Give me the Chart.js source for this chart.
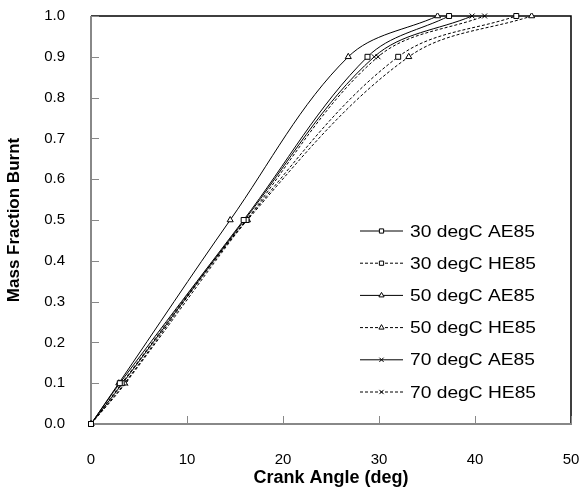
<!DOCTYPE html>
<html>
<head>
<meta charset="utf-8">
<script src="https://cdn.jsdelivr.net/npm/chart.js@4"></script>
<style>
  html, body { margin: 0; padding: 0; background: #fff; }
  #wrap { width: 583px; height: 490px; }
</style>
</head>
<body>
<div id="wrap"><canvas id="mfbChart" width="583" height="490"></canvas></div>
<script>
// --- DATA ---
const mfbLevels = [0, 0.1, 0.5, 0.9, 1.0];
const seriesNames = ['30 degC AE85', '30 degC HE85', '50 degC AE85', '50 degC HE85', '70 degC AE85', '70 degC HE85'];
// crank angle (deg) at which each mass fraction level is reached
const angle30AE = [0, 3.0, 15.9, 28.8, 37.3];
const angle30HE = [0, 3.2, 16.2, 32.0, 44.3];
const angle50AE = [0, 2.9, 14.5, 26.8, 36.1];
const angle50HE = [0, 3.5, 16.3, 33.1, 45.9];
const angle70AE = [0, 3.3, 16.0, 29.5, 39.7];
const angle70HE = [0, 3.6, 16.2, 29.9, 41.0];
const xTicks = [0, 10, 20, 30, 40, 50];
const yTicks = [0, 0.1, 0.2, 0.3, 0.4, 0.5, 0.6, 0.7, 0.8, 0.9, 1.0];

const FONT = 'Liberation Sans, Arial, sans-serif';
const AXIS_GREY = '#888888';

const angleSets = [angle30AE, angle30HE, angle50AE, angle50HE, angle70AE, angle70HE];
const markers = ['rect', 'rect', 'triangle', 'triangle', 'crossRot', 'crossRot'];

function buildDataset(i) {
  const dashed = i % 2 === 1;
  return {
    label: seriesNames[i],
    data: angleSets[i].map((x, k) => ({ x: x, y: mfbLevels[k] })),
    borderColor: '#000',
    backgroundColor: '#fff',
    borderWidth: 1,
    borderDash: dashed ? [3, 2] : [],
    tension: 0.35,
    pointStyle: markers[i],
    pointRadius: 3.5,
    pointBorderWidth: 1,
    pointBorderColor: '#000',
    pointBackgroundColor: '#fff',
    clip: 3
  };
}

// --- PLOT FRAME, INWARD TICKS AND LEGEND ---
const framePlugin = {
  id: 'frame',
  beforeDatasetsDraw(chart) {
    const { ctx, chartArea: a, scales } = chart;
    ctx.save();
    // black top / right border
    ctx.strokeStyle = '#000';
    ctx.lineWidth = 1.5;
    ctx.beginPath();
    ctx.moveTo(a.left, a.top);
    ctx.lineTo(a.right, a.top);
    ctx.lineTo(a.right, a.bottom);
    ctx.stroke();
    // inward tick marks
    ctx.strokeStyle = AXIS_GREY;
    ctx.lineWidth = 1;
    ctx.beginPath();
    yTicks.forEach(v => {
      const py = Math.round(scales.y.getPixelForValue(v)) + 0.5;
      ctx.moveTo(a.left, py);
      ctx.lineTo(a.left + 8, py);
    });
    xTicks.forEach(v => {
      const px = Math.round(scales.x.getPixelForValue(v)) + 0.5;
      ctx.moveTo(px, a.bottom);
      ctx.lineTo(px, a.bottom - 8);
    });
    ctx.stroke();
    // grey axes
    ctx.lineWidth = 2;
    ctx.beginPath();
    ctx.moveTo(a.left, a.top);
    ctx.lineTo(a.left, a.bottom);
    ctx.lineTo(a.right + 1, a.bottom);
    ctx.stroke();
    ctx.restore();
  },
  afterDraw(chart) {
    const { ctx } = chart;
    ctx.save();
    ctx.font = '17px ' + FONT;
    ctx.textBaseline = 'middle';
    chart.data.datasets.forEach((ds, i) => {
      const y = 231 + i * 32.2;
      ctx.strokeStyle = '#000';
      ctx.lineWidth = 1;
      ctx.setLineDash(ds.borderDash);
      ctx.beginPath();
      ctx.moveTo(360, y);
      ctx.lineTo(403, y);
      ctx.stroke();
      ctx.setLineDash([]);
      ctx.fillStyle = '#fff';
      Chart.helpers.drawPoint(ctx, {
        pointStyle: ds.pointStyle,
        radius: 3,
        borderWidth: 1,
        rotation: 0
      }, 381.5, y);
      // legend text is a little wider in the original
      ctx.fillStyle = '#000';
      ctx.save();
      ctx.translate(410, y + 1);
      ctx.scale(1.13, 1);
      ctx.fillText(ds.label, 0, 0);
      ctx.restore();
    });
    ctx.restore();
  }
};

const ctx = document.getElementById('mfbChart').getContext('2d');
new Chart(ctx, {
  type: 'line',
  data: { datasets: angleSets.map((_, i) => buildDataset(i)) },
  options: {
    responsive: false,
    animation: false,
    layout: { padding: { top: 16, right: 12, left: 0, bottom: 0 } },
    plugins: { legend: { display: false }, tooltip: { enabled: false } },
    scales: {
      x: {
        type: 'linear',
        min: 0, max: 50,
        afterBuildTicks: s => { s.ticks = xTicks.map(v => ({ value: v })); },
        afterFit: s => { s.height = 66; s.paddingLeft = 0; s.paddingRight = 0; },
        grid: { display: false, drawTicks: false },
        border: { display: false },
        ticks: { padding: 27, color: '#000', font: { family: FONT, size: 15 }, maxRotation: 0 },
        title: { display: true, text: 'Crank Angle (deg)', color: '#000', padding: { top: 0, bottom: 1 }, font: { family: FONT, size: 18, weight: 'bold' } }
      },
      y: {
        type: 'linear',
        min: 0, max: 1.0,
        afterBuildTicks: s => { s.ticks = yTicks.map(v => ({ value: v })); },
        afterFit: s => { s.width = 91; s.paddingTop = 0; s.paddingBottom = 0; },
        grid: { display: false, drawTicks: false },
        border: { display: false },
        ticks: { padding: 26, color: '#000', font: { family: FONT, size: 15 }, callback: v => v.toFixed(1) },
        title: { display: true, text: 'Mass Fraction Burnt', color: '#000', padding: { top: 4, bottom: 0 }, font: { family: FONT, size: 17, weight: 'bold' } }
      }
    }
  },
  plugins: [framePlugin]
});
</script>
</body>
</html>
